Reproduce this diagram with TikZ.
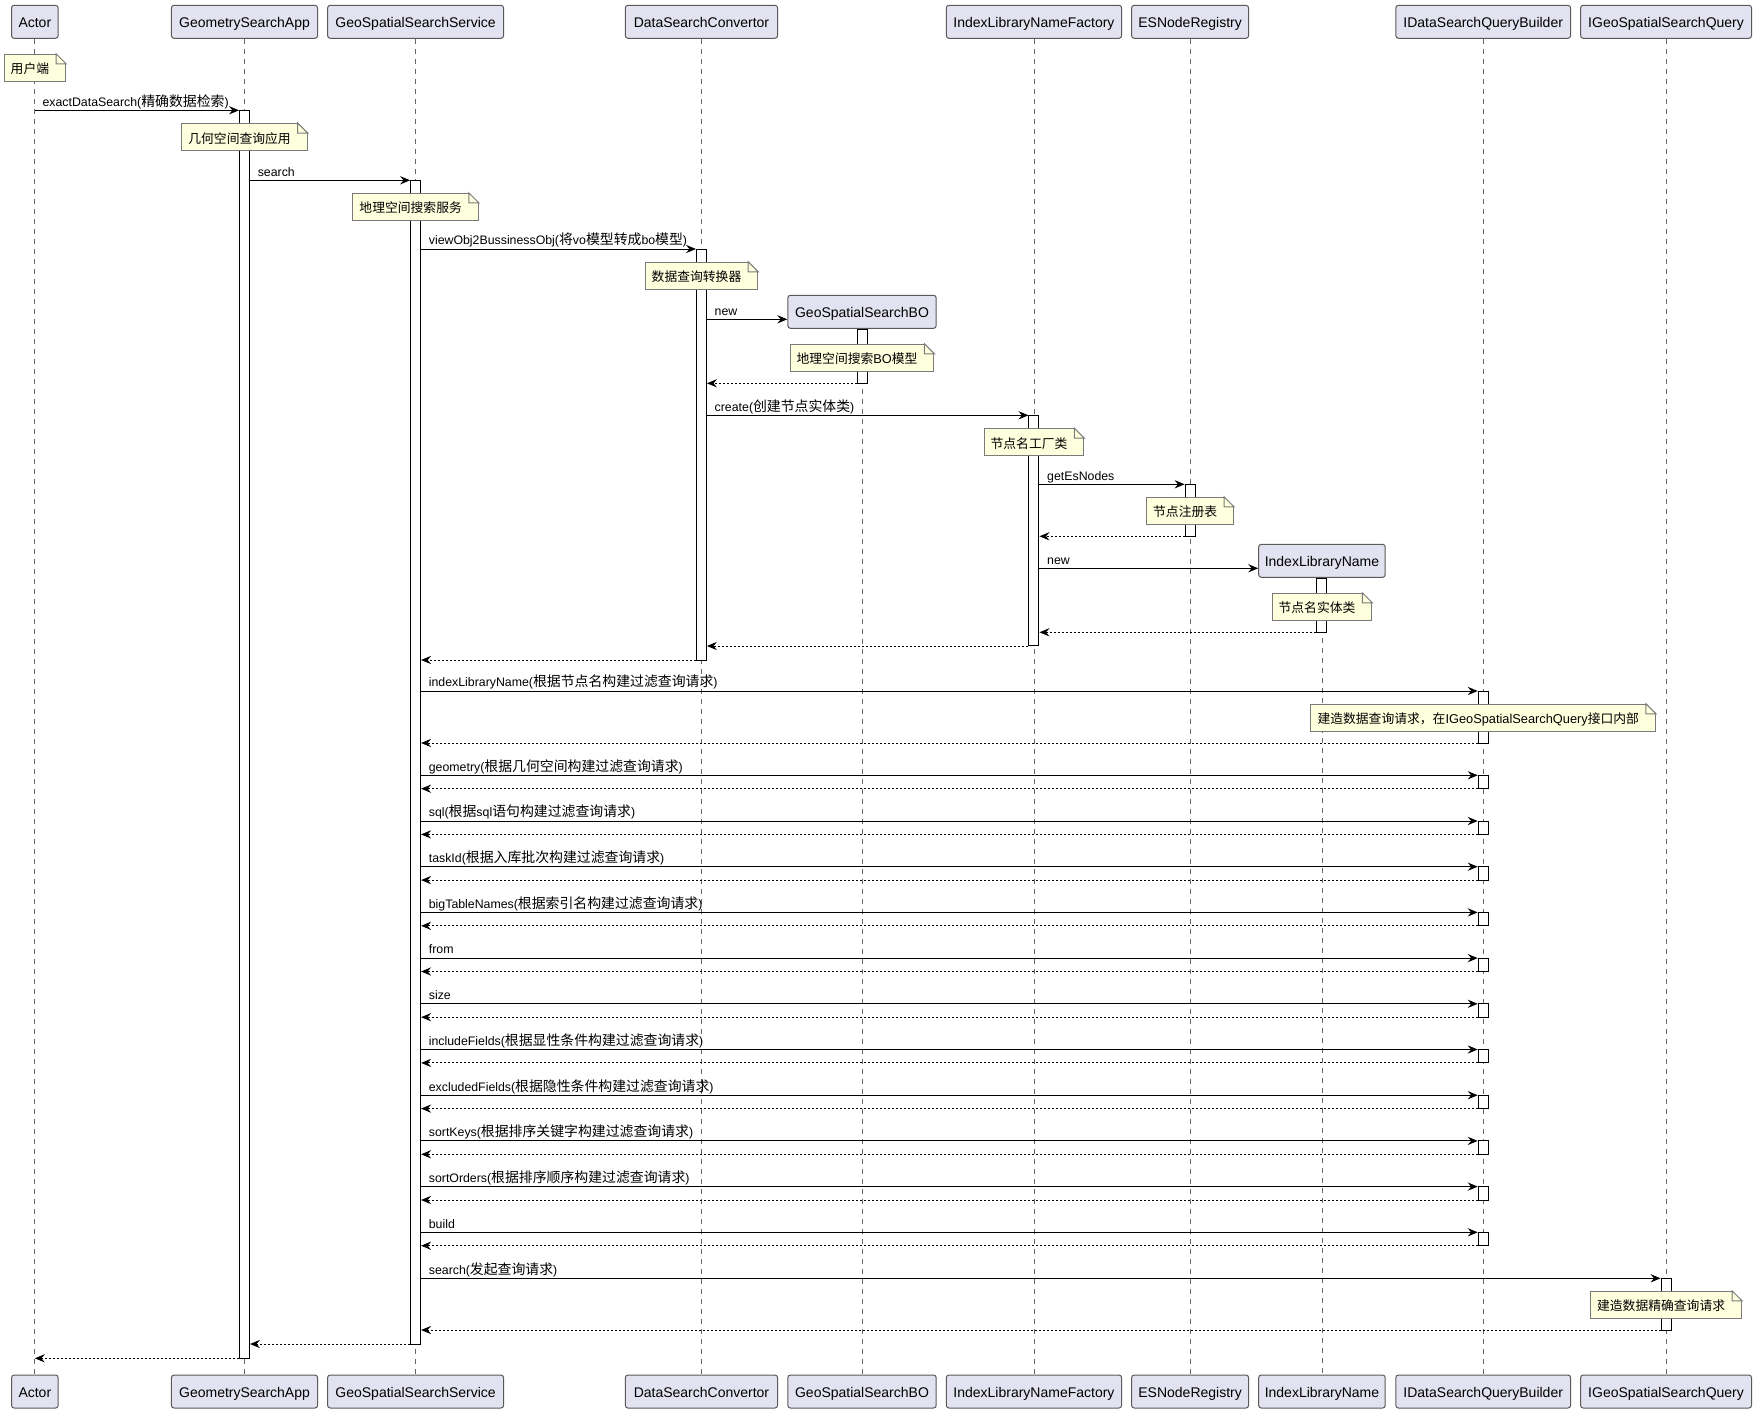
\documentclass[tikz,border=0pt]{standalone}
\usepackage{fontspec}
\setmainfont{Liberation Sans}
\newfontfamily\zhfontN{Noto Sans CJK SC}
\newfontfamily\zhfontM[Scale=1.125]{Noto Sans CJK SC}
\newcommand{\zhN}[1]{{\zhfontN #1}}
\newcommand{\zhM}[1]{{\zhfontM #1}}
\usetikzlibrary{arrows.meta,calc}
\definecolor{partfill}{HTML}{E2E2F0}
\definecolor{partdraw}{HTML}{5A5A5A}
\definecolor{notefill}{HTML}{FEFFDD}
\definecolor{notedraw}{HTML}{7A7A7A}
\definecolor{lifecol}{HTML}{666666}
\tikzset{
 part/.style={draw=partdraw, fill=partfill, rounded corners=2pt, line width=0.75pt, inner sep=0pt, minimum height=24.75pt, font=\fontsize{10.5}{12}\selectfont, text height=9pt, text depth=0pt},
 lifeline/.style={draw=lifecol, line width=0.6pt, dash pattern=on 3.75pt off 3.75pt},
 actbar/.style={draw=black, fill=white, line width=0.75pt, minimum width=7.5pt, inner sep=0pt},
 notebox/.style={draw=notedraw, fill=notefill, line width=0.75pt, minimum height=20.25pt, inner xsep=4.9pt, inner ysep=0pt, font=\fontsize{9.6}{11}\selectfont, text height=9pt, text depth=0pt},
 notefold/.style={draw=notedraw, line width=0.75pt},
 msgline/.style={draw=black, line width=0.75pt, -{Stealth[length=7.5pt,width=6.2pt,inset=2.6pt]}},
 retline/.style={msgline, dash pattern=on 1.5pt off 1.5pt},
 msglabel/.style={anchor=base west, inner sep=0pt, font=\fontsize{9.25}{11}\selectfont},
}
\newcommand{\umlnote}[3]{%
 \node[notebox] (#1) at (#2) {#3\hspace*{7.4pt}};
 \fill[white] ($(#1.north east)+(-10,-0.7)$) -- ($(#1.north east)+(0.7,-0.7)$) -- ($(#1.north east)+(0.7,10)$) -- cycle;
 \draw[notefold] ($(#1.north east)+(-10,0)$) -- ($(#1.north east)+(0,10)$) -- ($(#1.north east)+(-10,10)$) -- cycle;
}
\newcommand{\callmsg}[5]{%
 \draw[msgline] (#2 |- 0,#4) -- (#3 |- 0,#4);
 \node[msglabel] (#1) at ($(#2 |- 0,#4)+(7.5,-4.2)$) {#5};
}
\newcommand{\retmsg}[3]{\draw[retline] (#1 |- 0,#3) -- (#2 |- 0,#3);}
\begin{document}
\begin{tikzpicture}[x=0.75pt,y=-0.75pt]
\fill[white] (0,0) rectangle (1756,1413);
\useasboundingbox (0,0) rectangle (1756,1413);
% participants (top)
\node[part, minimum width=35.0pt]  (tA) at (34.85,21.8) {Actor};
\node[part, minimum width=109.65pt] (tB) at (244.5,21.8) {GeometrySearchApp};
\node[part, minimum width=132pt]   (tC) at (415.6,21.8) {GeoSpatialSearchService};
\node[part, minimum width=114.2pt] (tD) at (701.45,21.8) {DataSearchConvertor};
\node[part, minimum width=111.3pt] (tE) at (862,311.8) {GeoSpatialSearchBO};
\node[part, minimum width=131.5pt] (tF) at (1033.95,21.8) {IndexLibraryNameFactory};
\node[part, minimum width=87.75pt] (tG) at (1190.1,21.8) {ESNodeRegistry};
\node[part, minimum width=94.9pt]  (tH) at (1321.95,560.85) {IndexLibraryName};
\node[part, minimum width=131.1pt] (tI) at (1483.2,21.8) {IDataSearchQueryBuilder};
\node[part, minimum width=128.2pt] (tJ) at (1666.05,21.8) {IGeoSpatialSearchQuery};
% participants (bottom)
\node[part, minimum width=35.0pt]  (bA) at (34.85,1391.5) {Actor};
\node[part, minimum width=109.65pt] (bB) at (244.5,1391.5) {GeometrySearchApp};
\node[part, minimum width=132pt]   (bC) at (415.6,1391.5) {GeoSpatialSearchService};
\node[part, minimum width=114.2pt] (bD) at (701.45,1391.5) {DataSearchConvertor};
\node[part, minimum width=111.3pt] (bE) at (862,1391.5) {GeoSpatialSearchBO};
\node[part, minimum width=131.5pt] (bF) at (1033.95,1391.5) {IndexLibraryNameFactory};
\node[part, minimum width=87.75pt] (bG) at (1190.1,1391.5) {ESNodeRegistry};
\node[part, minimum width=94.9pt]  (bH) at (1321.95,1391.5) {IndexLibraryName};
\node[part, minimum width=131.1pt] (bI) at (1483.2,1391.5) {IDataSearchQueryBuilder};
\node[part, minimum width=128.2pt] (bJ) at (1666.05,1391.5) {IGeoSpatialSearchQuery};
% lifelines
\foreach \p in {A,B,C,D,E,F,G,H,I,J} {\draw[lifeline] (t\p.south) -- (b\p.north);}
% activation bars
\node[actbar, minimum height=936pt]   (aB) at (tB |- 0,734.3) {};
\node[actbar, minimum height=872.8pt] (aC) at (tC |- 0,762.15) {};
\node[actbar, minimum height=308.25pt] (aD) at (tD |- 0,454.5) {};
\node[actbar, minimum height=40.5pt]  (aE) at (tE |- 0,356.3) {};
\node[actbar, minimum height=173pt]   (aF) at (tF |- 0,530.65) {};
\node[actbar, minimum height=39pt]    (aG) at (tG |- 0,510.3) {};
\node[actbar, minimum height=40.5pt]  (aH) at (tH |- 0,605.3) {};
\node[actbar, minimum height=39pt]    (aI0) at (tI |- 0,717) {};
\foreach \k/\s in {1/775.3,2/821.0,3/866.7,4/912.4,5/958.1,6/1003.8,7/1049.5,8/1095.2,9/1140.9,10/1186.6,11/1232.3}
  {\node[actbar, minimum height=10.05pt] (aI\k) at (tI |- 0,\s+6.7) {};}
\node[actbar, minimum height=38.8pt]  (aJ) at (tJ |- 0,1304.15) {};
% notes
\umlnote{nA}{tA |- 0,67.8}{\zhN{用户端}}
\umlnote{nB}{tB |- 0,137}{\zhN{几何空间查询应用}}
\umlnote{nC}{tC |- 0,206.8}{\zhN{地理空间搜索服务}}
\umlnote{nD}{tD |- 0,275.8}{\zhN{数据查询转换器}}
\umlnote{nE}{tE |- 0,357.8}{\zhN{地理空间搜索}BO\zhN{模型}}
\umlnote{nF}{tF |- 0,442.2}{\zhN{节点名工厂类}}
\umlnote{nG}{tG |- 0,510.8}{\zhN{节点注册表}}
\umlnote{nH}{tH |- 0,606.8}{\zhN{节点名实体类}}
\umlnote{nI}{tI |- 0,717.8}{\zhN{建造数据查询请求，在}IGeoSpatialSearchQuery\zhN{接口内部}}
\umlnote{nJ}{tJ |- 0,1304.8}{\zhN{建造数据精确查询请求}}
% messages
\callmsg{m1}{tA}{aB.west}{110.3}{exactDataSearch(\zhM{精确数据检索})}
\callmsg{m2}{aB.east}{aC.west}{180.3}{search}
\callmsg{m3}{aC.east}{aD.west}{249}{viewObj2BussinessObj(\zhM{将}vo\zhM{模型转成}bo\zhM{模型})}
\callmsg{m4}{aD.east}{tE.west}{319.3}{new}
\retmsg{aE.west}{aD.east}{383.3}
\callmsg{m6}{aD.east}{aF.west}{415.3}{create(\zhM{创建节点实体类})}
\callmsg{m7}{aF.east}{aG.west}{484.3}{getEsNodes}
\retmsg{aG.west}{aF.east}{536.3}
\callmsg{m9}{aF.east}{tH.west}{568.3}{new}
\retmsg{aH.west}{aF.east}{632.3}
\retmsg{aF.west}{aD.east}{646}
\retmsg{aD.west}{aC.east}{660}
\callmsg{m13}{aC.east}{aI0.west}{691}{indexLibraryName(\zhM{根据节点名构建过滤查询请求})}
\retmsg{aI0.west}{aC.east}{743}
\callmsg{m15}{aC.east}{aI1.west}{775.3}{geometry(\zhM{根据几何空间构建过滤查询请求})}
\retmsg{aI1.west}{aC.east}{788.7}
\callmsg{m16}{aC.east}{aI2.west}{821.0}{sql(\zhM{根据}sql\zhM{语句构建过滤查询请求})}
\retmsg{aI2.west}{aC.east}{834.4}
\callmsg{m17}{aC.east}{aI3.west}{866.7}{taskId(\zhM{根据入库批次构建过滤查询请求})}
\retmsg{aI3.west}{aC.east}{880.1}
\callmsg{m18}{aC.east}{aI4.west}{912.4}{bigTableNames(\zhM{根据索引名构建过滤查询请求})}
\retmsg{aI4.west}{aC.east}{925.8}
\callmsg{m19}{aC.east}{aI5.west}{958.1}{from}
\retmsg{aI5.west}{aC.east}{971.5}
\callmsg{m20}{aC.east}{aI6.west}{1003.8}{size}
\retmsg{aI6.west}{aC.east}{1017.2}
\callmsg{m21}{aC.east}{aI7.west}{1049.5}{includeFields(\zhM{根据显性条件构建过滤查询请求})}
\retmsg{aI7.west}{aC.east}{1062.9}
\callmsg{m22}{aC.east}{aI8.west}{1095.2}{excludedFields(\zhM{根据隐性条件构建过滤查询请求})}
\retmsg{aI8.west}{aC.east}{1108.6}
\callmsg{m23}{aC.east}{aI9.west}{1140.9}{sortKeys(\zhM{根据排序关键字构建过滤查询请求})}
\retmsg{aI9.west}{aC.east}{1154.3}
\callmsg{m24}{aC.east}{aI10.west}{1186.6}{sortOrders(\zhM{根据排序顺序构建过滤查询请求})}
\retmsg{aI10.west}{aC.east}{1200.0}
\callmsg{m25}{aC.east}{aI11.west}{1232.3}{build}
\retmsg{aI11.west}{aC.east}{1245.7}
\callmsg{m26}{aC.east}{aJ.west}{1278.3}{search(\zhM{发起查询请求})}
\retmsg{aJ.west}{aC.east}{1330}
\retmsg{aC.west}{aB.east}{1344}
\retmsg{aB.west}{tA}{1358.3}
\end{tikzpicture}
\end{document}
